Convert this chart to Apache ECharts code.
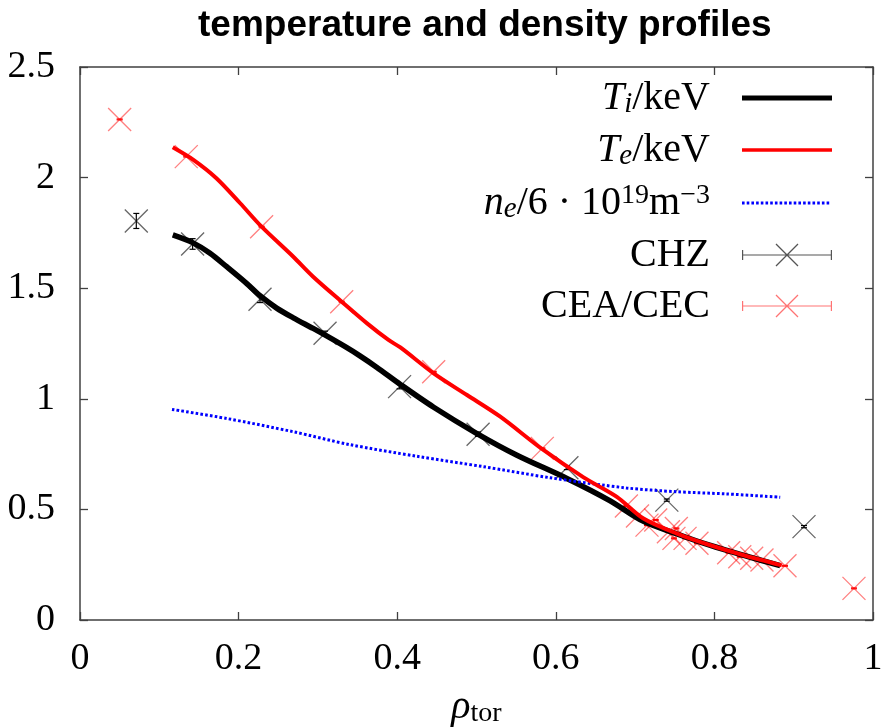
<!DOCTYPE html>
<html>
<head>
<meta charset="utf-8">
<script src="https://cdn.jsdelivr.net/npm/echarts@6/dist/echarts.min.js"></script>
<style>
  html, body { margin: 0; padding: 0; background: #fff; }
  #chart { width: 883px; height: 728px; }
</style>
</head>
<body>
<div id="chart"></div>
<script>
// profiles vs rho_tor
const tiCurve = [
  [0.117, 1.741], [0.142, 1.706], [0.164, 1.658], [0.185, 1.597], [0.210, 1.522],
  [0.227, 1.466], [0.248, 1.410], [0.269, 1.366], [0.294, 1.318], [0.311, 1.284],
  [0.336, 1.232], [0.353, 1.194], [0.374, 1.143], [0.404, 1.065], [0.446, 0.962],
  [0.500, 0.844], [0.551, 0.745], [0.614, 0.640], [0.668, 0.540], [0.710, 0.447],
  [0.752, 0.390], [0.794, 0.338], [0.836, 0.293], [0.883, 0.246]
];
const teCurve = [
  [0.117, 2.137], [0.143, 2.080], [0.172, 1.997], [0.202, 1.884], [0.229, 1.778],
  [0.269, 1.642], [0.294, 1.552], [0.330, 1.439], [0.362, 1.341], [0.389, 1.266],
  [0.404, 1.232], [0.446, 1.115], [0.488, 1.017], [0.530, 0.919], [0.583, 0.772],
  [0.635, 0.645], [0.677, 0.557], [0.710, 0.460], [0.752, 0.392], [0.794, 0.339],
  [0.836, 0.294], [0.885, 0.247]
];
const neCurve = [
  [0.116, 0.952], [0.185, 0.911], [0.269, 0.851], [0.340, 0.793], [0.425, 0.740],
  [0.509, 0.693], [0.593, 0.643], [0.689, 0.597], [0.752, 0.580], [0.815, 0.570],
  [0.883, 0.555]
];

const chzRho = [0.071, 0.142, 0.227, 0.309, 0.403, 0.502, 0.614, 0.740, 0.913];
const chzVal = [1.804, 1.700, 1.450, 1.296, 1.055, 0.840, 0.688, 0.542, 0.422];
const chzErr = [0.034, 0.024, 0.015, 0.010, 0.010, 0.010, 0.008, 0.005, 0.005];

const ceaRho = [0.050, 0.134, 0.229, 0.330, 0.446, 0.583, 0.689, 0.703, 0.715, 0.726,
  0.742, 0.752, 0.749, 0.763, 0.778, 0.818, 0.832, 0.847, 0.860, 0.889, 0.976];
const ceaVal = [2.263, 2.095, 1.778, 1.439, 1.122, 0.776, 0.515, 0.470, 0.429, 0.452,
  0.399, 0.414, 0.369, 0.369, 0.347, 0.304, 0.286, 0.279, 0.271, 0.245, 0.143];
const ceaErr = ceaRho.map(() => 0.002);

const legendNames = ['Ti', 'Te', 'ne', 'CHZ', 'CEA/CEC'];

const serif = 'Liberation Serif';
const chzColor = 'rgba(0,0,0,0.6)';
const ceaColor = 'rgba(255,0,0,0.5)';

// legend icon paths, all in a 90x24 box
function rect(x, y, w, h) { return 'M' + x + ',' + y + 'h' + w + 'v' + h + 'h' + (-w) + 'z'; }
const corners = rect(0, 0, 0.01, 0.01) + rect(89.99, 23.99, 0.01, 0.01);
let dots = '';
for (let i = 0; i < 88; i += 4.7) dots += rect(i, 10.5, 2.6, 3);
const errIcon = corners + rect(0, 11.4, 90, 1.2) + rect(0, 7, 1.2, 10) + rect(88.8, 7, 1.2, 10) +
  'M34.46,0.54L56.46,22.54L55.54,23.46L33.54,1.46Z' +
  'M56.46,1.46L34.46,23.46L33.54,22.54L55.54,0.54Z';
const icons = {
  'Ti': corners + rect(0, 9.5, 90, 5),
  'Te': corners + rect(0, 10.2, 90, 3.6),
  'ne': corners + dots,
  'CHZ': errIcon,
  'CEA/CEC': errIcon
};
const iconColors = { 'Ti': '#000', 'Te': '#ff0000', 'ne': '#0000ff', 'CHZ': '#555', 'CEA/CEC': 'rgba(255,0,0,0.55)' };
const labels = {
  'Ti': '{it|T}{sub|i}{rm|/keV}{sp| }',
  'Te': '{it|T}{sub|e}{rm|/keV}{sp| }',
  'ne': '{it|n}{sub|e}{rm|/6 · 10}{sup|19}{rm|m}{sup|−3}{sp| }',
  'CHZ': '{rm|CHZ}{sp| }',
  'CEA/CEC': '{rm|CEA/CEC}{sp| }'
};

function errBars(color) {
  return function (params, api) {
    const x = api.value(0);
    const lo = api.coord([x, api.value(1)]);
    const hi = api.coord([x, api.value(2)]);
    const st = { stroke: color, lineWidth: 1.2 };
    return {
      type: 'group',
      children: [
        { type: 'line', shape: { x1: lo[0], y1: lo[1], x2: hi[0], y2: hi[1] }, style: st },
        { type: 'line', shape: { x1: lo[0] - 3, y1: lo[1], x2: lo[0] + 3, y2: lo[1] }, style: st },
        { type: 'line', shape: { x1: hi[0] - 3, y1: hi[1], x2: hi[0] + 3, y2: hi[1] }, style: st }
      ]
    };
  };
}

const xMark = 'path://M0,0L10,10M10,0L0,10';
const tickStyle = { show: true, inside: true, length: 8, lineStyle: { color: '#404040', width: 1.3 } };
const lineStyleAx = { show: true, onZero: false, lineStyle: { color: '#404040', width: 1.5 } };
const tickFont = { fontFamily: serif, fontSize: 38, color: '#000' };

const chart = echarts.init(document.getElementById('chart'));
chart.setOption({
  animation: false,
  backgroundColor: '#fff',
  title: {
    text: 'temperature and density profiles',
    left: 198, top: 7, padding: 0,
    textStyle: { fontFamily: 'Liberation Sans', fontWeight: 'bold', fontSize: 37, color: '#000' }
  },
  grid: { left: 80, right: 10, top: 67, bottom: 108, outerBoundsMode: 'none' },
  legend: {
    data: legendNames.map(n => ({ name: n, icon: 'path://' + icons[n], itemStyle: { color: iconColors[n], borderWidth: 0, opacity: 1 } })),
    orient: 'vertical', align: 'right',
    right: 51, top: 78, padding: 0,
    itemWidth: 90, itemHeight: 24, itemGap: 11,
    selectedMode: false,
    formatter: n => labels[n],
    textStyle: {
      fontFamily: serif, fontSize: 40, color: '#000',
      rich: {
        it: { fontFamily: serif, fontStyle: 'italic', fontSize: 40, lineHeight: 42, color: '#000' },
        rm: { fontFamily: serif, fontSize: 40, lineHeight: 42, color: '#000' },
        sub: { fontFamily: serif, fontStyle: 'italic', fontSize: 29, lineHeight: 21, verticalAlign: 'bottom', color: '#000' },
        sup: { fontFamily: serif, fontSize: 28, lineHeight: 21, verticalAlign: 'top', color: '#000' },
        sp: { width: 27, fontSize: 10 }
      }
    }
  },
  xAxis: [
    {
      type: 'value', min: 0, max: 1, interval: 0.2,
      axisLine: lineStyleAx, axisTick: tickStyle, splitLine: { show: false },
      axisLabel: Object.assign({ margin: 20 }, tickFont),
      name: '{it|ρ}{sub|tor}', nameLocation: 'middle', nameGap: 66,
      nameTextStyle: {
        rich: {
          it: { fontFamily: serif, fontStyle: 'italic', fontSize: 40, lineHeight: 42, color: '#000' },
          sub: { fontFamily: serif, fontSize: 28, lineHeight: 20, verticalAlign: 'bottom', color: '#000' }
        }
      }
    },
    {
      type: 'value', position: 'top', min: 0, max: 1, interval: 0.2,
      axisLine: lineStyleAx, axisTick: tickStyle, axisLabel: { show: false }, splitLine: { show: false }
    }
  ],
  yAxis: [
    {
      type: 'value', min: 0, max: 2.5, interval: 0.5,
      axisLine: lineStyleAx, axisTick: tickStyle, splitLine: { show: false },
      axisLabel: Object.assign({ margin: 25 }, tickFont)
    },
    {
      type: 'value', position: 'right', min: 0, max: 2.5, interval: 0.5,
      axisLine: lineStyleAx, axisTick: tickStyle, axisLabel: { show: false }, splitLine: { show: false }
    }
  ],
  series: [
    {
      name: 'Ti', type: 'line', data: tiCurve, smooth: 0.3, symbol: 'none', z: 4,
      lineStyle: { color: '#000', width: 5.5 }, itemStyle: { color: '#000' }
    },
    {
      name: 'Te', type: 'line', data: teCurve, smooth: 0.3, symbol: 'none', z: 5,
      lineStyle: { color: '#ff0000', width: 4 }, itemStyle: { color: '#ff0000' }
    },
    {
      name: 'ne', type: 'line', data: neCurve, smooth: 0.3, symbol: 'none', z: 4,
      lineStyle: { color: '#0000ff', width: 3, type: [2.6, 2.2] }, itemStyle: { color: '#0000ff' }
    },
    {
      name: 'CHZ', type: 'scatter', z: 2,
      data: chzRho.map((r, i) => [r, chzVal[i]]),
      symbol: xMark, symbolSize: 23,
      itemStyle: { color: 'transparent', borderColor: chzColor, borderWidth: 1.3, opacity: 1 }
    },
    {
      name: 'CEA/CEC', type: 'scatter', z: 2,
      data: ceaRho.map((r, i) => [r, ceaVal[i]]),
      symbol: xMark, symbolSize: 23,
      itemStyle: { color: 'transparent', borderColor: ceaColor, borderWidth: 1.3, opacity: 1 }
    },
    {
      name: 'CHZ err', type: 'custom', z: 3,
      data: chzRho.map((r, i) => [r, chzVal[i] - chzErr[i], chzVal[i] + chzErr[i]]),
      encode: { x: 0, y: [1, 2] },
      renderItem: errBars('#000')
    },
    {
      name: 'CEA err', type: 'custom', z: 3,
      data: ceaRho.map((r, i) => [r, ceaVal[i] - ceaErr[i], ceaVal[i] + ceaErr[i]]),
      encode: { x: 0, y: [1, 2] },
      renderItem: errBars('#ff0000')
    }
  ]
});
</script>
</body>
</html>
